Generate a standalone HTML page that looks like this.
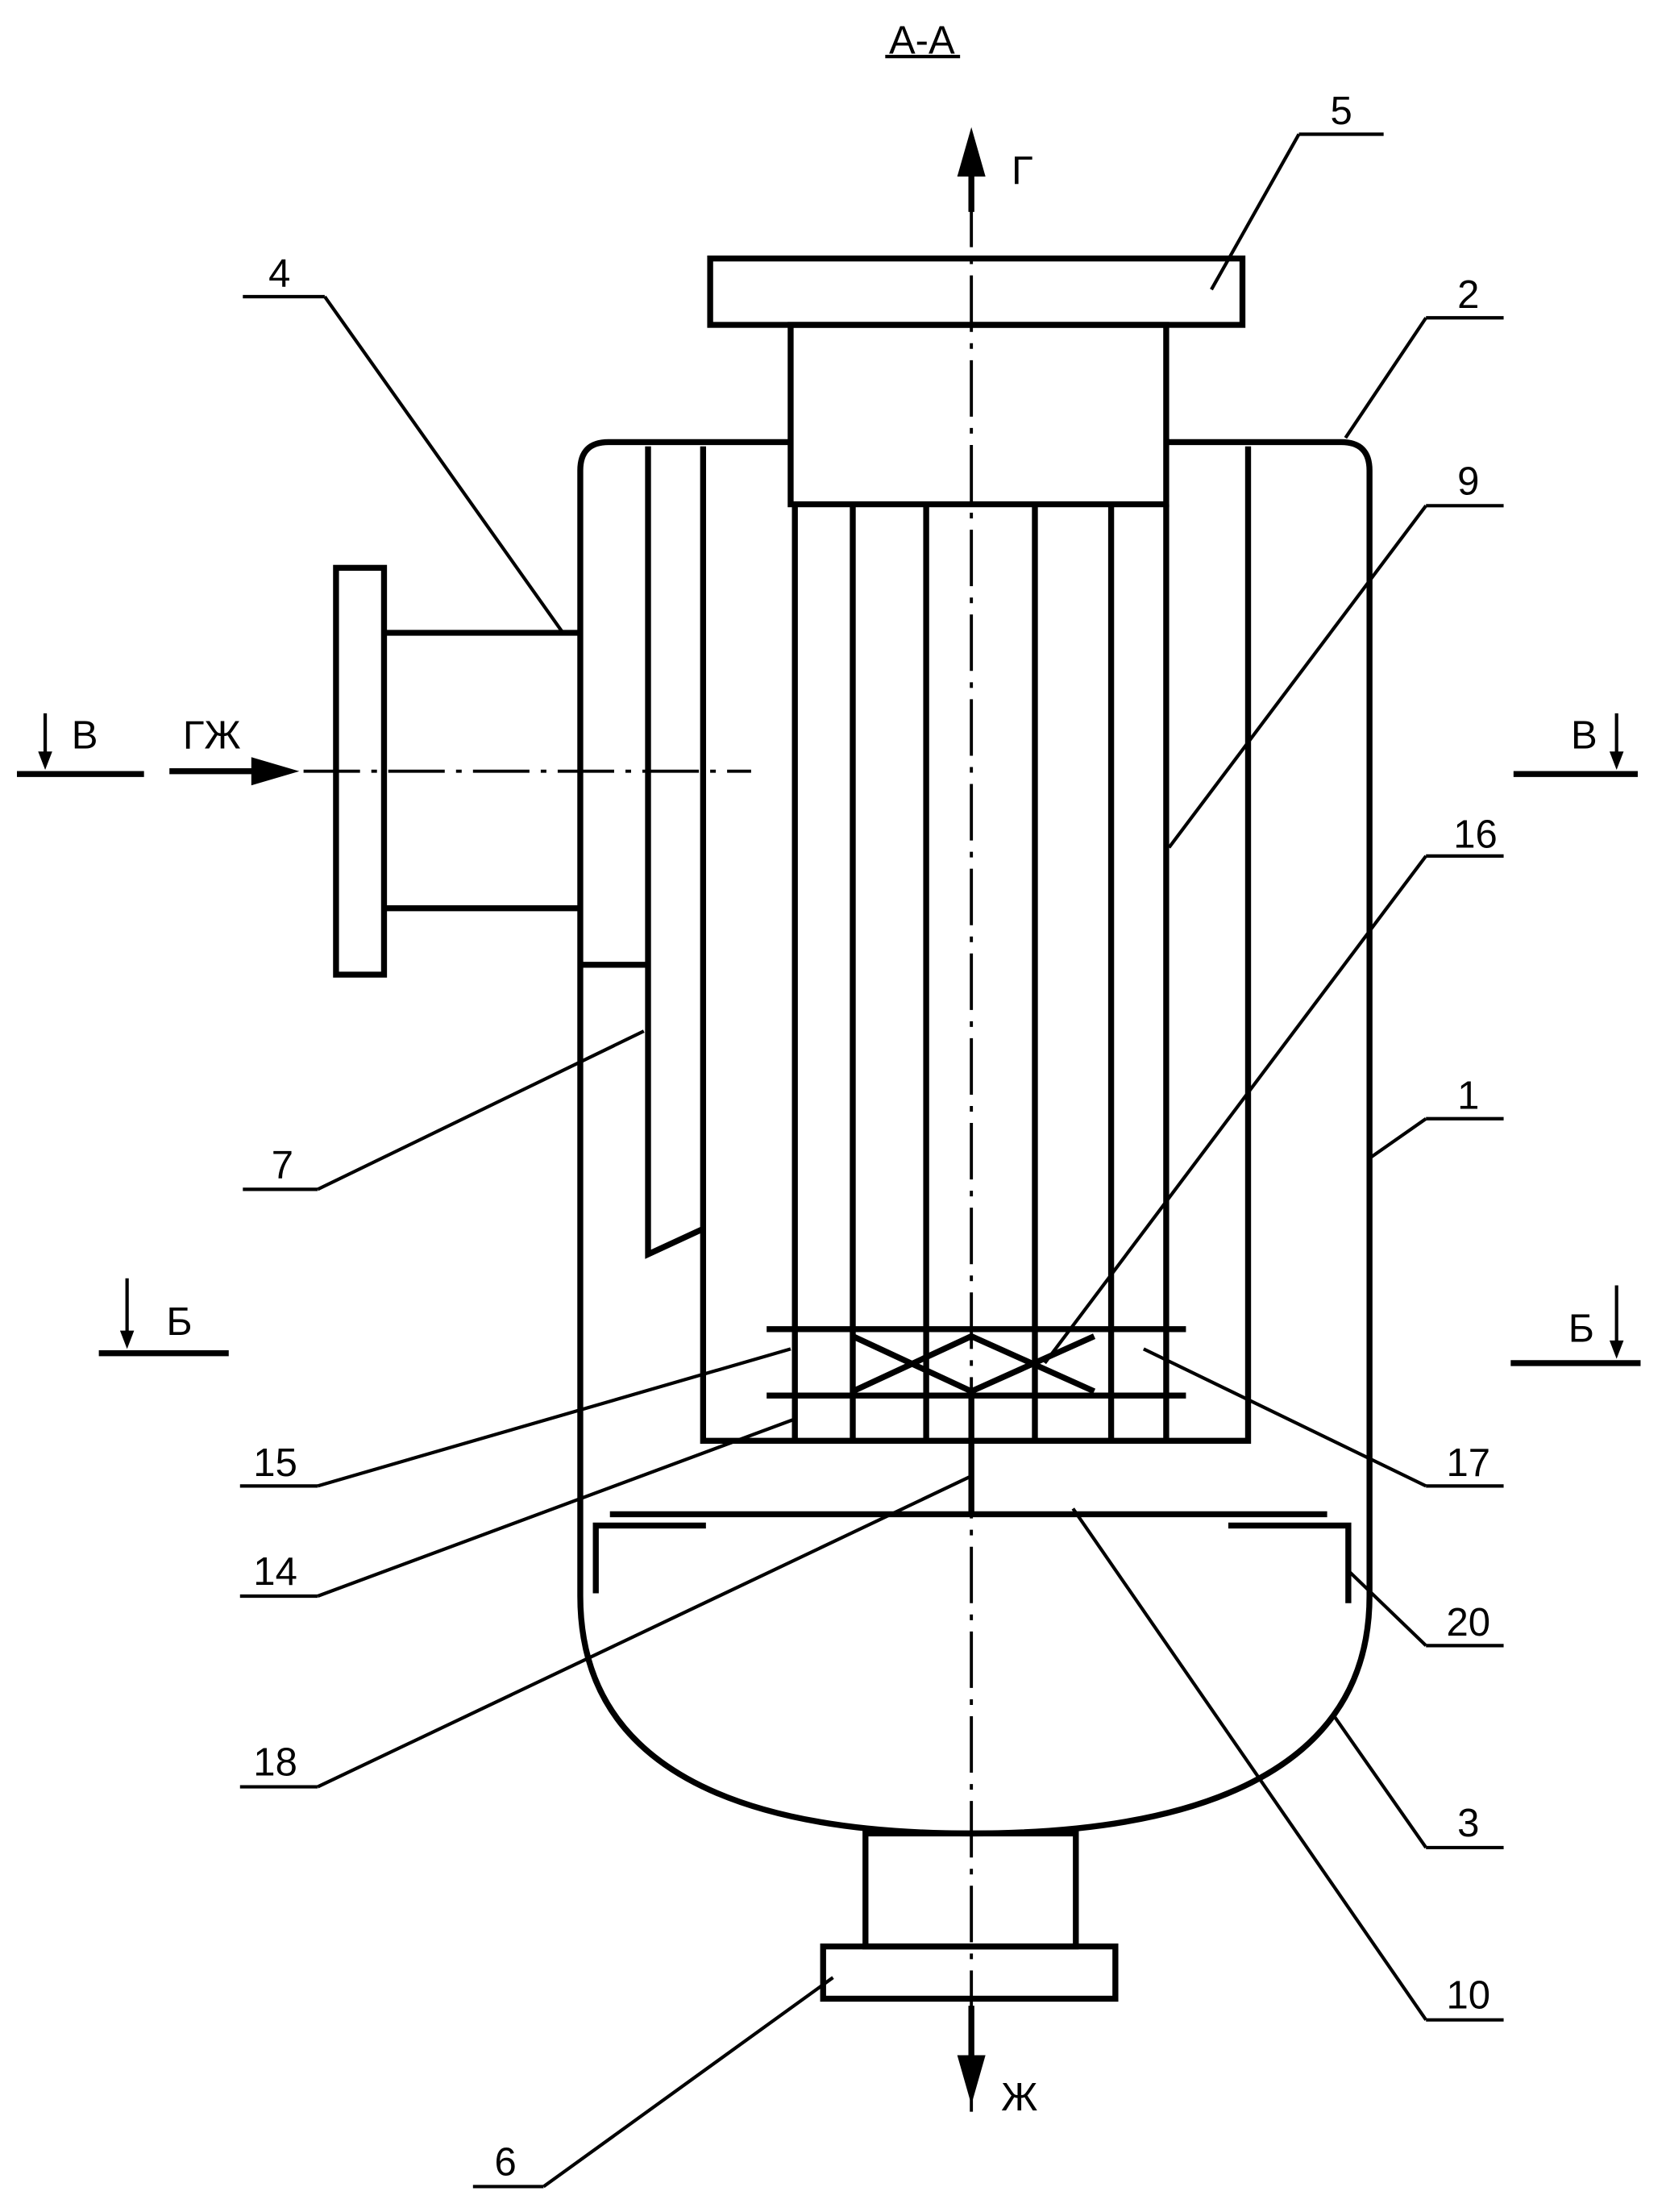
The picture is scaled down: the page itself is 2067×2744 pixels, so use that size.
<!DOCTYPE html>
<html><head><meta charset="utf-8"><style>html,body{margin:0;padding:0;background:#fff}svg{display:block}</style></head>
<body>
<svg width="2067" height="2744" viewBox="0 0 1180 1566" preserveAspectRatio="none" xmlns="http://www.w3.org/2000/svg" font-family="Liberation Sans, DejaVu Sans, sans-serif" font-size="28">
<g fill="none" stroke="#000" stroke-width="4.2">
<line x1="688" y1="135" x2="688" y2="1500" stroke-width="2.2" stroke-dasharray="40,8,4,8"/>
<line x1="215" y1="546" x2="532" y2="546" stroke-width="2.2" stroke-dasharray="40,8,4,8"/>
<rect x="503" y="183" width="377" height="47"/>
<rect x="560" y="230" width="266" height="127"/>
<path d="M560 313 H431 Q411 313 411 333 V1130 C411 1250 520 1298 688 1298 C856 1298 970 1250 970 1130 V333 Q970 313 950 313 H826"/>
<rect x="613" y="1298" width="149" height="80"/>
<rect x="583" y="1378" width="207" height="37"/>
<rect x="238" y="402" width="34" height="288"/>
<line x1="272" y1="448" x2="411" y2="448"/>
<line x1="272" y1="643" x2="411" y2="643"/>
<line x1="411" y1="683" x2="459" y2="683"/>
<polyline points="459,316 459,888 498,870"/>
<polyline points="498,316 498,1020 884,1020 884,316"/>
<line x1="563" y1="357" x2="563" y2="1020"/>
<line x1="604" y1="357" x2="604" y2="1020"/>
<line x1="656" y1="357" x2="656" y2="1020"/>
<line x1="733" y1="357" x2="733" y2="1020"/>
<line x1="787" y1="357" x2="787" y2="1020"/>
<line x1="826" y1="357" x2="826" y2="1020"/>
<line x1="543" y1="941" x2="840" y2="941"/>
<line x1="543" y1="988" x2="840" y2="988"/>
<line x1="604" y1="946" x2="688" y2="985"/>
<line x1="604" y1="985" x2="688" y2="946"/>
<line x1="688" y1="946" x2="775" y2="985"/>
<line x1="688" y1="985" x2="775" y2="946"/>
<line x1="688" y1="988" x2="688" y2="1072"/>
<line x1="432" y1="1072" x2="940" y2="1072"/>
<polyline points="500,1080 422,1080 422,1128"/>
<polyline points="870,1080 955,1080 955,1135"/>
<line x1="688" y1="120" x2="688" y2="150"/>
<line x1="120" y1="546" x2="185" y2="546"/>
<line x1="688" y1="1420" x2="688" y2="1455"/>
<line x1="12" y1="548" x2="102" y2="548"/>
<line x1="1072" y1="548" x2="1160" y2="548"/>
<line x1="70" y1="958" x2="162" y2="958"/>
<line x1="1070" y1="965" x2="1162" y2="965"/>
</g>
<g stroke="#000" stroke-width="2.4" fill="none">
<line x1="32" y1="505" x2="32" y2="540"/>
<line x1="1145" y1="505" x2="1145" y2="540"/>
<line x1="90" y1="905" x2="90" y2="950"/>
<line x1="1145" y1="910" x2="1145" y2="957"/>
<line x1="172" y1="210" x2="230" y2="210"/><line x1="230" y1="210" x2="398" y2="447"/>
<line x1="920" y1="95" x2="980" y2="95"/><line x1="920" y1="95" x2="858" y2="205"/>
<line x1="1010" y1="225" x2="1065" y2="225"/><line x1="1010" y1="225" x2="953" y2="310"/>
<line x1="1010" y1="358" x2="1065" y2="358"/><line x1="1010" y1="358" x2="828" y2="600"/>
<line x1="1010" y1="606" x2="1065" y2="606"/><line x1="1010" y1="606" x2="740" y2="965"/>
<line x1="1010" y1="792" x2="1065" y2="792"/><line x1="1010" y1="792" x2="970" y2="820"/>
<line x1="172" y1="842" x2="225" y2="842"/><line x1="225" y1="842" x2="456" y2="730"/>
<line x1="170" y1="1052" x2="225" y2="1052"/><line x1="225" y1="1052" x2="560" y2="955"/>
<line x1="1010" y1="1052" x2="1065" y2="1052"/><line x1="1010" y1="1052" x2="810" y2="955"/>
<line x1="170" y1="1130" x2="225" y2="1130"/><line x1="225" y1="1130" x2="562" y2="1005"/>
<line x1="1010" y1="1165" x2="1065" y2="1165"/><line x1="1010" y1="1165" x2="955" y2="1112"/>
<line x1="170" y1="1265" x2="225" y2="1265"/><line x1="225" y1="1265" x2="688" y2="1045"/>
<line x1="1010" y1="1308" x2="1065" y2="1308"/><line x1="1010" y1="1308" x2="945" y2="1215"/>
<line x1="1010" y1="1430" x2="1065" y2="1430"/><line x1="1010" y1="1430" x2="760" y2="1068"/>
<line x1="335" y1="1548" x2="385" y2="1548"/><line x1="385" y1="1548" x2="590" y2="1400"/>
<line x1="627" y1="40" x2="680" y2="40"/>
</g>
<g fill="#000">
<polygon points="688,90 678,125 698,125"/>
<polygon points="212,546 178,536 178,556"/>
<polygon points="688,1490 678,1455 698,1455"/>
<polygon points="32,545 27,532 37,532"/>
<polygon points="1145,545 1140,532 1150,532"/>
<polygon points="90,955 85,942 95,942"/>
<polygon points="1145,962 1140,949 1150,949"/>
</g>
<g fill="#000" text-anchor="middle">
<text x="653" y="38">А-А</text>
<text x="724" y="130">Г</text>
<text x="60" y="530">В</text>
<text x="150" y="530">ГЖ</text>
<text x="1122" y="530">В</text>
<text x="127" y="945">Б</text>
<text x="1120" y="950">Б</text>
<text x="722" y="1494">Ж</text>
<text x="198" y="203">4</text>
<text x="950" y="88">5</text>
<text x="1040" y="218">2</text>
<text x="1040" y="350">9</text>
<text x="1045" y="600">16</text>
<text x="1040" y="785">1</text>
<text x="200" y="834">7</text>
<text x="195" y="1045">15</text>
<text x="1040" y="1045">17</text>
<text x="195" y="1122">14</text>
<text x="1040" y="1158">20</text>
<text x="195" y="1257">18</text>
<text x="1040" y="1300">3</text>
<text x="1040" y="1422">10</text>
<text x="358" y="1540">6</text>
</g>
</svg>
</body></html>
